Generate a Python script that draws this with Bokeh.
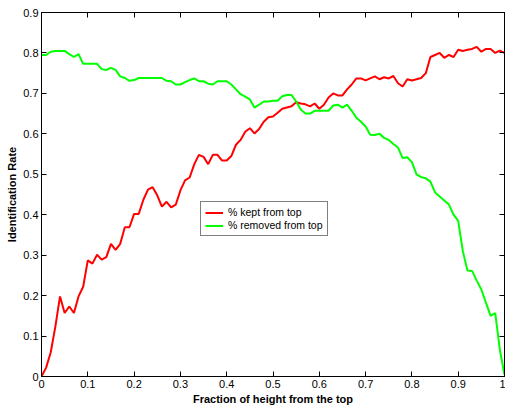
from bokeh.plotting import figure
from bokeh.models import LinearAxis, Legend, LegendItem, Range1d, FixedTicker
from bokeh.embed import file_html
from bokeh.resources import INLINE

x_vals = [i / 100 for i in range(101)]

kept_from_top = [
    0.0, 0.022, 0.06, 0.124, 0.198, 0.157, 0.173, 0.157, 0.198, 0.222,
    0.287, 0.279, 0.301, 0.289, 0.295, 0.328, 0.313, 0.328, 0.369, 0.369,
    0.402, 0.402, 0.437, 0.462, 0.468, 0.448, 0.42, 0.432, 0.418, 0.425,
    0.46, 0.485, 0.492, 0.525, 0.548, 0.543, 0.525, 0.548, 0.548, 0.534,
    0.534, 0.545, 0.573, 0.585, 0.605, 0.614, 0.601, 0.612, 0.63, 0.641,
    0.643, 0.652, 0.662, 0.665, 0.668, 0.678, 0.675, 0.673, 0.668, 0.675,
    0.662, 0.672, 0.69, 0.70, 0.695, 0.695, 0.71, 0.722, 0.737, 0.737,
    0.732, 0.737, 0.742, 0.735, 0.74, 0.737, 0.743, 0.725, 0.717, 0.735,
    0.732, 0.735, 0.738, 0.75, 0.79, 0.795, 0.80, 0.788, 0.795, 0.79,
    0.808, 0.805, 0.808, 0.81, 0.815, 0.803, 0.81, 0.81, 0.80, 0.806,
    0.80,
]

removed_from_top = [
    0.795, 0.795, 0.803, 0.805, 0.805, 0.805, 0.797, 0.79, 0.797, 0.773,
    0.773, 0.773, 0.773, 0.76, 0.758, 0.763, 0.758, 0.742, 0.738, 0.731,
    0.733, 0.738, 0.738, 0.738, 0.738, 0.738, 0.738, 0.731, 0.73, 0.722,
    0.722, 0.728, 0.733, 0.737, 0.73, 0.73, 0.724, 0.722, 0.73, 0.73,
    0.73, 0.722, 0.71, 0.698, 0.692, 0.685, 0.665, 0.672, 0.68, 0.68,
    0.682, 0.682, 0.693, 0.696, 0.696, 0.68, 0.66, 0.65, 0.65, 0.657,
    0.657, 0.657, 0.657, 0.67, 0.672, 0.665, 0.672, 0.657, 0.64, 0.63,
    0.618, 0.598, 0.597, 0.6, 0.59, 0.585, 0.575, 0.566, 0.54, 0.542,
    0.53, 0.5, 0.493, 0.49, 0.482, 0.455, 0.445, 0.435, 0.425, 0.4,
    0.385, 0.31, 0.262, 0.261, 0.237, 0.215, 0.182, 0.15, 0.157, 0.066,
    0.004,
]

x_ticks = [0, 0.1, 0.2, 0.3, 0.4, 0.5, 0.6, 0.7, 0.8, 0.9, 1]
y_ticks = [0, 0.1, 0.2, 0.3, 0.4, 0.5, 0.6, 0.7, 0.8, 0.9]
x_tick_labels = {0: "0", 0.1: "0.1", 0.2: "0.2", 0.3: "0.3", 0.4: "0.4", 0.5: "0.5",
                 0.6: "0.6", 0.7: "0.7", 0.8: "0.8", 0.9: "0.9", 1: "1"}
y_tick_labels = {0: "0", 0.1: "0.1", 0.2: "0.2", 0.3: "0.3", 0.4: "0.4", 0.5: "0.5",
                 0.6: "0.6", 0.7: "0.7", 0.8: "0.8", 0.9: "0.9"}

FONT = "Liberation Sans"

p = figure(width=505, height=407, output_backend="svg", toolbar_location=None,
           x_range=Range1d(0, 1), y_range=Range1d(0, 0.9),
           min_border_left=41, min_border_right=1, min_border_top=12, min_border_bottom=30,
           x_axis_location="below", y_axis_location="left")
p.background_fill_color = "white"
p.border_fill_color = "white"
p.outline_line_color = "black"
p.outline_line_width = 1
p.xgrid.visible = False
p.ygrid.visible = False

r1 = p.line(x_vals, kept_from_top, line_color="#ff0000", line_width=2)
r2 = p.line(x_vals, removed_from_top, line_color="#00ff00", line_width=2)

def style_axis(ax, ticks, labels, show_labels=True):
    ax.ticker = FixedTicker(ticks=ticks)
    ax.major_label_overrides = labels
    ax.major_tick_in = 5
    ax.major_tick_out = 0
    ax.minor_tick_line_color = None
    ax.axis_line_color = "black"
    ax.major_tick_line_color = "black"
    ax.major_label_text_font = FONT
    ax.major_label_text_font_size = "11px" if show_labels else "0px"
    ax.major_label_text_color = "black"
    ax.major_label_standoff = 3 if show_labels else 0

style_axis(p.xaxis[0], x_ticks, x_tick_labels)
style_axis(p.yaxis[0], y_ticks, y_tick_labels)
p.xaxis[0].axis_label = "Fraction of height from the top"
p.yaxis[0].axis_label = "Identification Rate"
for ax in (p.xaxis[0], p.yaxis[0]):
    ax.axis_label_text_font = FONT
    ax.axis_label_text_font_size = "11px"
    ax.axis_label_text_font_style = "bold"
    ax.axis_label_text_color = "black"
    ax.axis_label_standoff = 2

top_ax = LinearAxis()
style_axis(top_ax, x_ticks, {k: "" for k in x_tick_labels}, show_labels=False)
right_ax = LinearAxis()
style_axis(right_ax, y_ticks, {k: "" for k in y_tick_labels}, show_labels=False)
p.add_layout(top_ax, "above")
p.add_layout(right_ax, "right")

legend = Legend(items=[LegendItem(label="% kept from top", renderers=[r1]),
                       LegendItem(label="% removed from top", renderers=[r2])],
                location=(159, 140))
legend.border_line_color = "black"
legend.border_line_width = 1
legend.background_fill_color = "white"
legend.label_text_font = FONT
legend.label_text_font_size = "10.5px"
legend.label_height = 11
legend.glyph_height = 11
legend.glyph_width = 18
legend.spacing = 1
legend.padding = 4
legend.margin = 0
legend.label_standoff = 5
legend.label_text_color = "black"
p.add_layout(legend)

open("out.html", "w").write(file_html(p, INLINE))
